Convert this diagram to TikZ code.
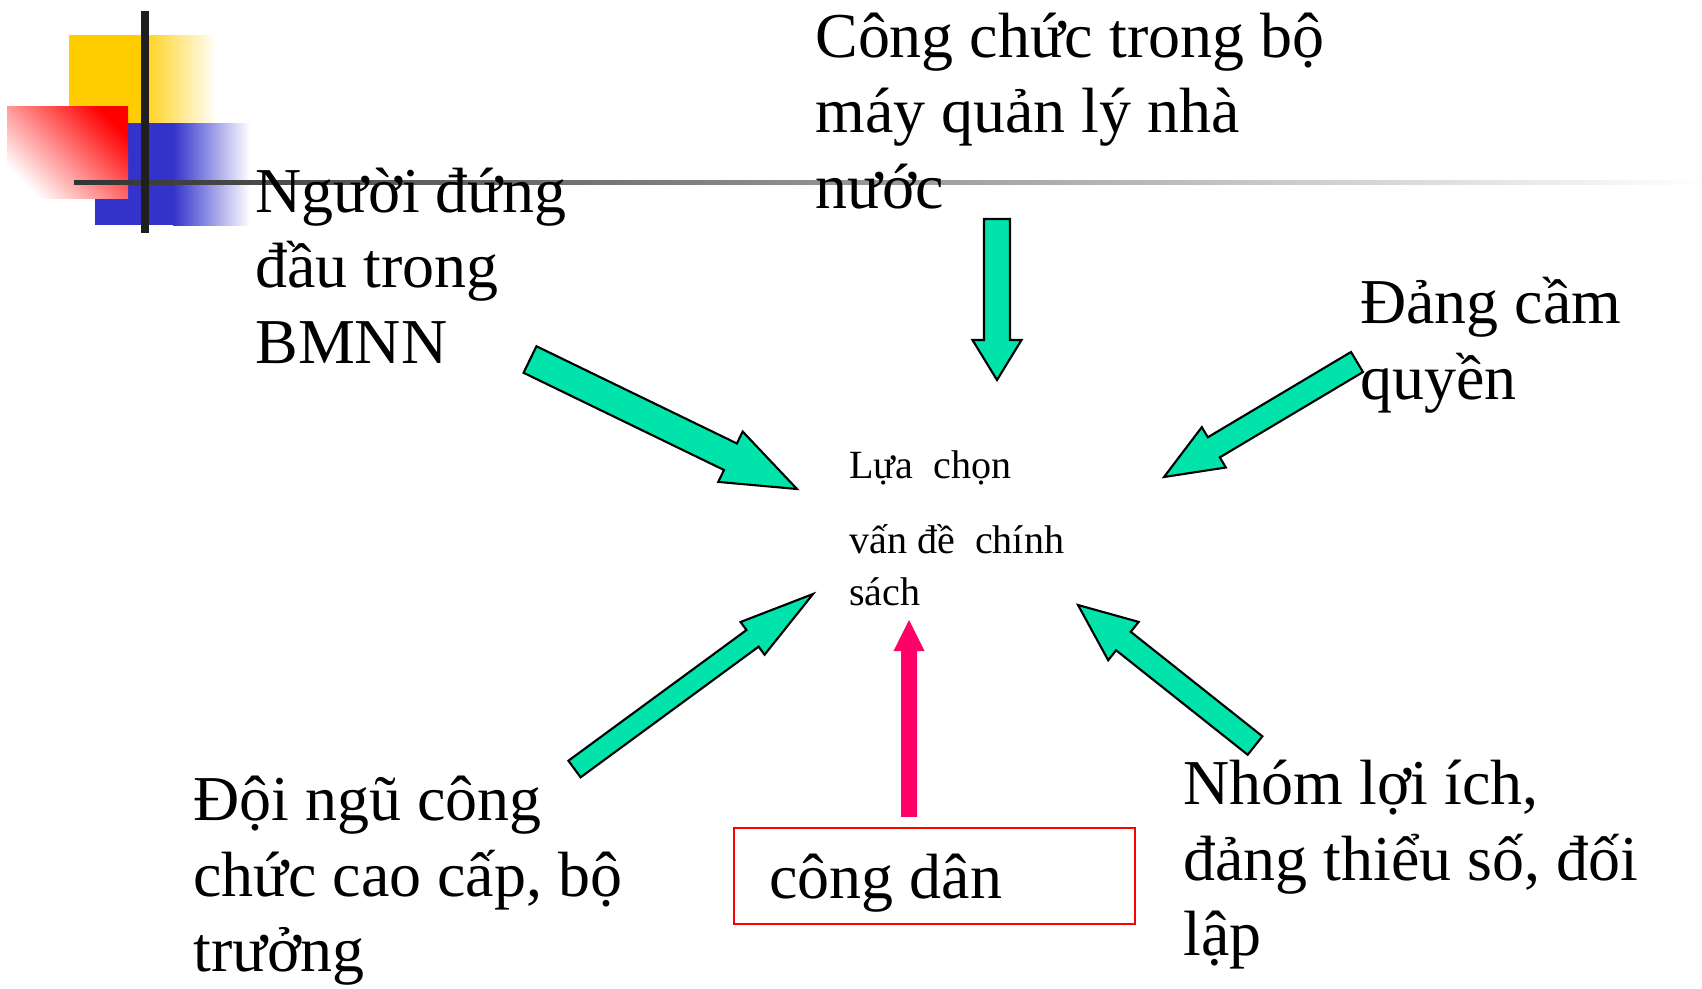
\documentclass[tikz,border=0pt]{standalone}
\usepackage{fontspec}
\setmainfont{Liberation Serif}
\usetikzlibrary{calc}
\definecolor{arrgreen}{RGB}{0,227,170}
\definecolor{arrpink}{RGB}{255,0,102}
\definecolor{decoyellow}{RGB}{255,204,0}
\definecolor{decoblue}{RGB}{51,51,204}
\definecolor{decored}{RGB}{255,0,0}
\definecolor{boxred}{RGB}{255,0,0}
\newcommand\blockarrow[6]{%
  \coordinate (ba-h) at ($(#2)!#5!(#1)$);
  \path[#6] ($(#1)!#3!90:(#2)$) -- ($(ba-h)!#3!90:(#2)$) -- ($(ba-h)!#4!90:(#2)$) -- (#2)
    -- ($(ba-h)!#4!-90:(#2)$) -- ($(ba-h)!#3!-90:(#2)$) -- ($(#1)!#3!-90:(#2)$) -- cycle;
}
\begin{document}
\begin{tikzpicture}[x=0.02cm, y=-0.02cm,
  bigtext/.style={anchor=base west, inner sep=0pt, align=left, font=\fontsize{36.4pt}{42.7pt}\selectfont},
  smalltext/.style={anchor=base west, inner sep=0pt, align=left, font=\fontsize{22.8pt}{29.6pt}\selectfont},
  greenarrow/.style={fill=arrgreen, draw=black, line width=1.2pt, line join=miter},
  pinkarrow/.style={fill=arrpink},
  citizenbox/.style={draw=boxred, line width=1.4pt, inner sep=0pt, minimum width=8.02cm, minimum height=1.92cm}]
\useasboundingbox (0,0) rectangle (1702,988);
\fill[white] (0,0) rectangle (1702,988);
% decoration
\fill[decoyellow] (69,35) rectangle (148,123);
\shade[left color=decoyellow!85, right color=white] (148,35) rectangle (217,123);
\fill[decoblue] (95,123) rectangle (173,225);
\shade[left color=decoblue, right color=white] (173,123) rectangle (250,225);
\shade[top color=decored, bottom color=white, shading angle=-45] (7,106) rectangle (128,198);
\shade[left color=black!80, right color=white] (74,180) rectangle (1702,184);
\fill[black!88] (141,11) rectangle (149,233);
% texts (base anchor = baseline of the last line)
\node[bigtext] (nguoi) at (255,363) {Người đứng\\đầu trong\\BMNN};
\node[bigtext] (congchuc) at (815,208) {Công chức trong bộ\\máy quản lý nhà\\nước};
\node[bigtext] (dang) at (1360,399) {Đảng cầm\\quyền};
\node[bigtext] (doingu) at (193,971) {Đội ngũ công\\chức cao cấp, bộ\\trưởng};
\node[bigtext] (nhom) at (1183,955) {Nhóm lợi ích,\\đảng thiểu số, đối\\lập};
\node[smalltext] (center) at (849,605) {Lựa\ \ chọn\\[13pt]vấn đề\ \ chính\\sách};
\node[citizenbox] (box) at (934.5,876) {};
\node[bigtext] (congdan) at (769,898) {công dân};
% arrow end points
\coordinate (a1t) at (530,359.5);  \coordinate (a1h) at (797,489);
\coordinate (a2t) at (997,219);    \coordinate (a2h) at (997,380);
\coordinate (a3t) at (1357,362);   \coordinate (a3h) at (1164,477);
\coordinate (a4t) at (574.5,769);  \coordinate (a4h) at (813,594);
\coordinate (a5t) at (1255,745.5); \coordinate (a5h) at (1078,605);
\coordinate (a6t) at ($(box.north)+(-25.5,-10)$); \coordinate (a6h) at (909,620);
\blockarrow{a1t}{a1h}{0.295cm}{0.56cm}{1.48cm}{greenarrow}
\blockarrow{a2t}{a2h}{0.26cm}{0.49cm}{0.80cm}{greenarrow}
\blockarrow{a3t}{a3h}{0.234cm}{0.47cm}{1.16cm}{greenarrow}
\blockarrow{a4t}{a4h}{0.206cm}{0.406cm}{1.5cm}{greenarrow}
\blockarrow{a5t}{a5h}{0.236cm}{0.49cm}{1.16cm}{greenarrow}
\blockarrow{a6t}{a6h}{0.16cm}{0.31cm}{0.62cm}{pinkarrow}
\end{tikzpicture}
\end{document}
